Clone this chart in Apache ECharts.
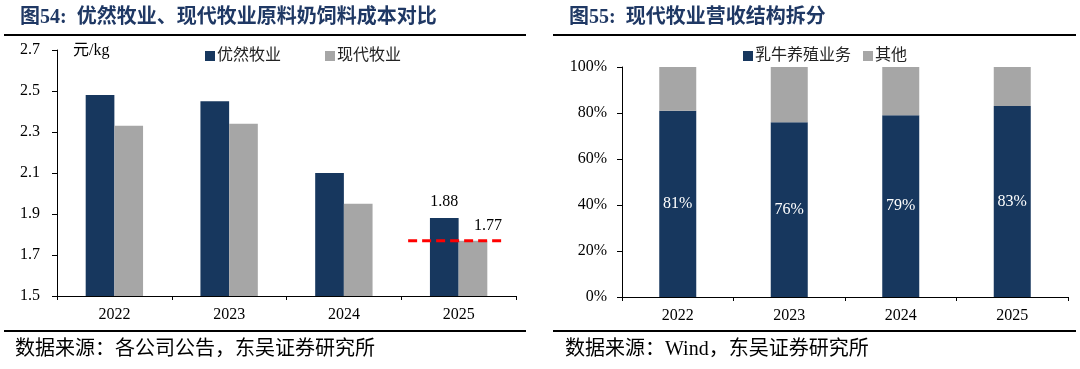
<!DOCTYPE html>
<html>
<head>
<meta charset="utf-8">
<script src="https://cdn.jsdelivr.net/npm/echarts@6/dist/echarts.min.js"></script>
<style>
  html, body { margin: 0; padding: 0; background: #fff; }
  #main { width: 1080px; height: 369px; }
</style>
</head>
<body>
<div id="main"></div>
<script>
var years = ['2022', '2023', '2024', '2025'];
var youranCost = [2.48, 2.45, 2.10, 1.88];
var xiandaiCost = [2.33, 2.34, 1.95, 1.77];
var dashFrom = 3.06, dashTo = 3.89;   // span of the red marker, in category units
var dairyShare = [81, 76, 79, 83];
var otherShare = [19, 24, 21, 17];

var navy = '#17375e';
var grey = '#a6a6a6';
var titleBlue = '#1f3864';
var fontMix = '"Liberation Serif", "Noto Sans CJK SC", serif';

function catAxis(grid) {
  return {
    gridIndex: grid,
    type: 'category',
    data: years,
    axisLine: { lineStyle: { color: '#000', width: 1 } },
    axisTick: { show: true, length: 4, lineStyle: { color: '#000' } },
    axisLabel: { color: '#000', fontSize: 16, fontFamily: fontMix, margin: 11 },
    splitLine: { show: false }
  };
}

function lastLabel(values, label) {
  return values.map(function (v, i) {
    return i === values.length - 1 ? { value: v, label: label } : v;
  });
}

var option = {
  animation: false,
  backgroundColor: '#fff',
  title: [{
    text: '图54:  优然牧业、现代牧业原料奶饲料成本对比',
    left: 15, top: 3,
    textStyle: { color: titleBlue, fontSize: 20, fontWeight: 'bold', fontFamily: fontMix }
  }, {
    text: '图55:  现代牧业营收结构拆分',
    left: 564, top: 3,
    textStyle: { color: titleBlue, fontSize: 20, fontWeight: 'bold', fontFamily: fontMix }
  }],
  graphic: [
    { type: 'line', shape: { x1: 4, y1: 35, x2: 526, y2: 35 }, style: { stroke: '#000', lineWidth: 2 } },
    { type: 'line', shape: { x1: 553, y1: 35, x2: 1076, y2: 35 }, style: { stroke: '#000', lineWidth: 2 } },
    { type: 'line', shape: { x1: 4, y1: 331, x2: 526, y2: 331 }, style: { stroke: '#000', lineWidth: 2 } },
    { type: 'line', shape: { x1: 553, y1: 331, x2: 1076, y2: 331 }, style: { stroke: '#000', lineWidth: 2 } },
    { type: 'text', left: 73, top: 43, style: { text: '元/kg', fill: '#000', font: '16px ' + fontMix } },
    { type: 'text', left: 15, top: 340, style: { text: '数据来源：各公司公告，东吴证券研究所', fill: '#000', font: '20px ' + fontMix } },
    { type: 'text', left: 565, top: 340, style: { text: '数据来源：Wind，东吴证券研究所', fill: '#000', font: '20px ' + fontMix } }
  ],
  legend: [{
    data: ['优然牧业', '现代牧业'],
    left: 200, top: 43,
    itemWidth: 10, itemHeight: 10, itemGap: 44,
    icon: 'rect',
    textStyle: { color: '#222', fontSize: 16, fontFamily: fontMix, padding: [0, 0, 0, -3] }
  }, {
    data: ['乳牛养殖业务', '其他'],
    left: 738, top: 43,
    itemWidth: 10, itemHeight: 10, itemGap: 12,
    icon: 'rect',
    textStyle: { color: '#222', fontSize: 16, fontFamily: fontMix, padding: [0, 0, 0, -3] }
  }],
  grid: [
    { left: 57, right: 564, top: 50, bottom: 73 },
    { left: 622, right: 12, top: 67, bottom: 72 }
  ],
  xAxis: [
    catAxis(0),
    catAxis(1),
    { gridIndex: 0, type: 'value', min: 0, max: 4, show: false }
  ],
  yAxis: [{
    gridIndex: 0, type: 'value', min: 1.5, max: 2.7, interval: 0.2,
    axisLine: { show: true, lineStyle: { color: '#000' } },
    axisTick: { show: true, length: 5, lineStyle: { color: '#000' } },
    axisLabel: {
      color: '#000', fontSize: 16, fontFamily: fontMix, margin: 17,
      formatter: function (v) { return v.toFixed(1); }
    },
    splitLine: { show: false }
  }, {
    gridIndex: 1, type: 'value', min: 0, max: 100, interval: 20,
    axisLine: { show: true, lineStyle: { color: '#000' } },
    axisTick: { show: true, length: 5, lineStyle: { color: '#000' } },
    axisLabel: { color: '#000', fontSize: 16, fontFamily: fontMix, margin: 15, formatter: '{value}%' },
    splitLine: { show: false }
  }],
  series: [{
    name: '优然牧业', type: 'bar', xAxisIndex: 0, yAxisIndex: 0,
    barGap: '0%', barCategoryGap: '50%',
    itemStyle: { color: navy },
    data: lastLabel(youranCost, {
      show: true, position: 'top', distance: 8,
      color: '#000', fontSize: 16, fontFamily: fontMix
    })
  }, {
    name: '现代牧业', type: 'bar', xAxisIndex: 0, yAxisIndex: 0,
    barGap: '0%', barCategoryGap: '50%',
    itemStyle: { color: grey },
    data: lastLabel(xiandaiCost, {
      show: true, position: 'top', distance: 7, offset: [15, 0],
      color: '#000', fontSize: 16, fontFamily: fontMix
    })
  }, {
    name: 'marker', type: 'line', xAxisIndex: 2, yAxisIndex: 0,
    symbol: 'none', silent: true, z: 5,
    lineStyle: { color: '#ff0000', width: 3, type: [9, 5] },
    data: [[dashFrom, xiandaiCost[3]], [dashTo, xiandaiCost[3]]]
  }, {
    name: '乳牛养殖业务', type: 'bar', xAxisIndex: 1, yAxisIndex: 1,
    stack: 'rev', barWidth: 37,
    itemStyle: { color: navy },
    label: {
      show: true, position: 'inside', color: '#fff', fontSize: 16, fontFamily: fontMix,
      formatter: '{c}%'
    },
    data: dairyShare
  }, {
    name: '其他', type: 'bar', xAxisIndex: 1, yAxisIndex: 1,
    stack: 'rev', barWidth: 37,
    itemStyle: { color: grey },
    data: otherShare
  }]
};

window.onload = function () {
  var chart = echarts.init(document.getElementById('main'));
  chart.setOption(option);
};
</script>
</body>
</html>
